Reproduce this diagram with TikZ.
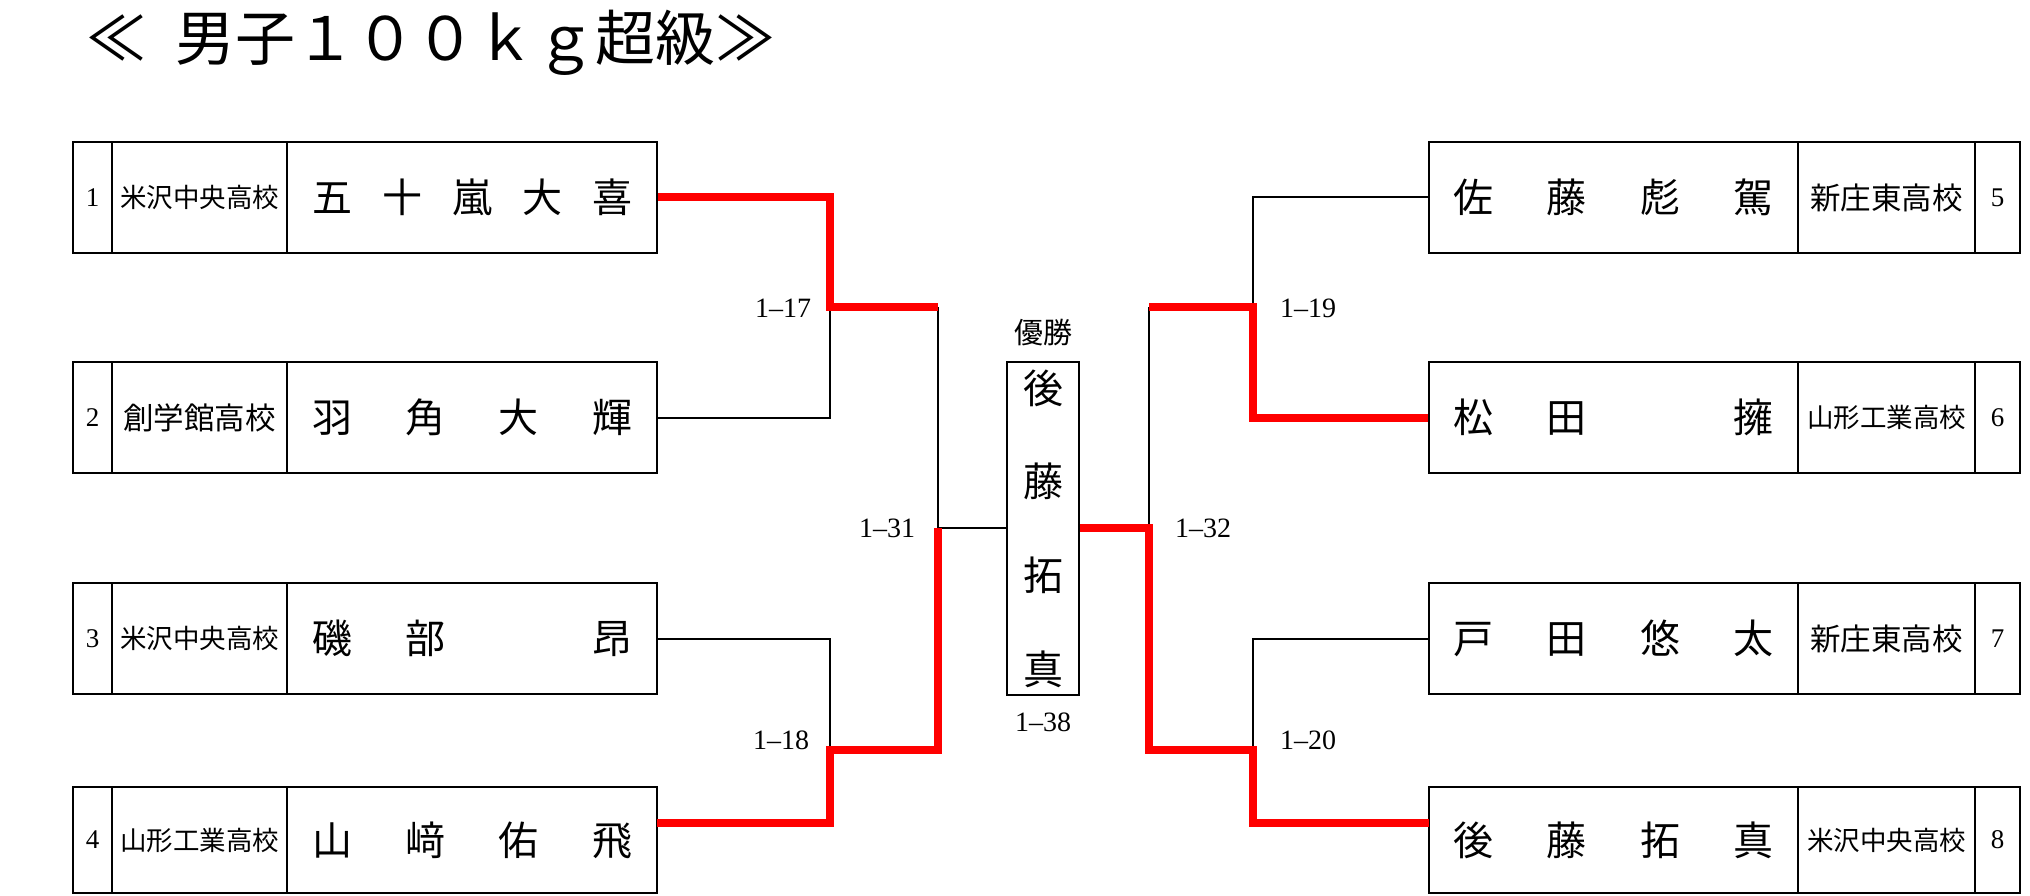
\documentclass[tikz,border=0pt]{standalone}
\usepackage{fontspec}
\setmainfont{Liberation Serif}
\newfontfamily\jp{Noto Sans CJK JP}
\newcommand{\nm}[1]{\makebox[320pt][s]{#1}}
\tikzset{
  cell/.style={draw=black, line width=2.6pt, inner sep=0pt, minimum height=111pt},
  cellb/.style={cell, minimum height=106pt},
  numw/.style={minimum width=39pt, font=\fontsize{27}{30}\selectfont},
  numr/.style={minimum width=45pt, font=\fontsize{27}{30}\selectfont},
  schl/.style={minimum width=175pt, font=\jp\fontsize{26.5}{30}\selectfont},
  schr/.style={minimum width=177pt, font=\jp\fontsize{26.5}{30}\selectfont},
  sch5/.style={font=\jp\fontsize{30.5}{34}\selectfont},
  namel/.style={minimum width=370pt, font=\jp\fontsize{40}{44}\selectfont},
  namer/.style={minimum width=369pt, font=\jp\fontsize{40}{44}\selectfont},
  wire/.style={draw=black, line width=2.7pt, line join=miter},
  win/.style={draw=red, line width=8pt, line join=miter},
  lbl/.style={font=\fontsize{28}{30}\selectfont, inner sep=0pt},
  champ/.style={draw=black, line width=2.6pt, inner sep=0pt, outer sep=0pt, minimum width=72pt, minimum height=333pt,
    align=center, font=\jp\fontsize{40}{93.7}\selectfont},
}
\begin{document}
\begin{tikzpicture}[x=1pt,y=-1pt]
\useasboundingbox (0,0) rectangle (2030,895);
\fill[white] (0,0) rectangle (2030,895);

% title
\node[font=\jp\fontsize{60}{64}\selectfont, inner sep=0pt, anchor=west] (title) at (86,43) {≪\hspace{29pt}男子１００ｋｇ超級≫};

% left boxes
\node[cell, numw]  (k1) at (92.5,197.5) {1};
\node[cell, schl]  (s1) at (199.5,197.5) {米沢中央高校};
\node[cell, namel] (n1) at (472,197.5) {\nm{五\hfill 十\hfill 嵐\hfill 大\hfill 喜}};

\node[cell, numw]  (k2) at (92.5,417.5) {2};
\node[cell, schl, sch5]  (s2) at (199.5,417.5) {創学館高校};
\node[cell, namel] (n2) at (472,417.5) {\nm{羽\hfill 角\hfill 大\hfill 輝}};

\node[cell, numw]  (k3) at (92.5,638.5) {3};
\node[cell, schl]  (s3) at (199.5,638.5) {米沢中央高校};
\node[cell, namel] (n3) at (472,638.5) {\nm{磯\hfill 部\hfill \phantom{部}\hfill 昂}};

\node[cellb, numw]  (k4) at (92.5,840) {4};
\node[cellb, schl]  (s4) at (199.5,840) {山形工業高校};
\node[cellb, namel] (n4) at (472,840) {\nm{山\hfill 﨑\hfill 佑\hfill 飛}};

% right boxes
\node[cell, namer] (n5) at (1613.5,197.5) {\nm{佐\hfill 藤\hfill 彪\hfill 駕}};
\node[cell, schr, sch5] (s5) at (1886.5,197.5) {新庄東高校};
\node[cell, numr]  (k5) at (1997.5,197.5) {5};

\node[cell, namer] (n6) at (1613.5,417.5) {\nm{松\hfill 田\hfill \phantom{田}\hfill 擁}};
\node[cell, schr]  (s6) at (1886.5,417.5) {山形工業高校};
\node[cell, numr]  (k6) at (1997.5,417.5) {6};

\node[cell, namer] (n7) at (1613.5,638.5) {\nm{戸\hfill 田\hfill 悠\hfill 太}};
\node[cell, schr, sch5] (s7) at (1886.5,638.5) {新庄東高校};
\node[cell, numr]  (k7) at (1997.5,638.5) {7};

\node[cellb, namer] (n8) at (1613.5,840) {\nm{後\hfill 藤\hfill 拓\hfill 真}};
\node[cellb, schr]  (s8) at (1886.5,840) {米沢中央高校};
\node[cellb, numr]  (k8) at (1997.5,840) {8};

% champion
\node[champ] (ch) at (1043,528.5) {後\\藤\\拓\\真};
\node[font=\jp\fontsize{29}{32}\selectfont, inner sep=0pt] (yu) at (1043,333) {優勝};

% junction coordinates
\coordinate (a1) at (830,197);
\coordinate (a2) at (830,418);
\coordinate (a12) at (830,307);
\coordinate (b12) at (938,307);
\coordinate (a3) at (830,639);
\coordinate (a4) at (830,823);
\coordinate (e4) at (657,823);
\coordinate (a34) at (830,750);
\coordinate (b34) at (938,750);
\coordinate (bl) at (938,528);

\coordinate (c5) at (1253,197);
\coordinate (c6) at (1253,418);
\coordinate (c56) at (1253,307);
\coordinate (d56) at (1149,307);
\coordinate (c7) at (1253,639);
\coordinate (c8) at (1253,823);
\coordinate (e8) at (1429,823);
\coordinate (c78) at (1253,750);
\coordinate (d78) at (1149,750);
\coordinate (dr) at (1149,528);

% black wires
\draw[wire] (n2.east |- a2) -- (a2) -- (a12);
\draw[wire] (n3.east |- a3) -- (a3) -- (a34);
\draw[wire] (b12) -- (bl) -- (ch.west |- bl);
\draw[wire] (n5.west |- c5) -- (c5) -- (c56);
\draw[wire] (n7.west |- c7) -- (c7) -- (c78);
\draw[wire] (d56) -- (dr);

% red (winner) wires
\draw[win] (n1.east |- a1) -- (a1) -- (a12) -- (b12);
\draw[win] (e4) -- (a4) -- (a34) -- (b34) -- (bl);
\draw[win] (n6.west |- c6) -- (c6) -- (c56) -- (d56);
\draw[win] (ch.east |- dr) -- (dr) -- (d78) -- (c78) -- (c8) -- (e8);

% redraw champion border on top
\draw[line width=2.6pt] (ch.north west) rectangle (ch.south east);

% match labels
\node[lbl] (l17) at (783,308) {1–17};
\node[lbl] (l18) at (781,740) {1–18};
\node[lbl] (l31) at (887,528) {1–31};
\node[lbl] (l32) at (1203,528) {1–32};
\node[lbl] (l19) at (1308,308) {1–19};
\node[lbl] (l20) at (1308,740) {1–20};
\node[lbl] (l38) at (1043,722) {1–38};
\end{tikzpicture}
\end{document}
